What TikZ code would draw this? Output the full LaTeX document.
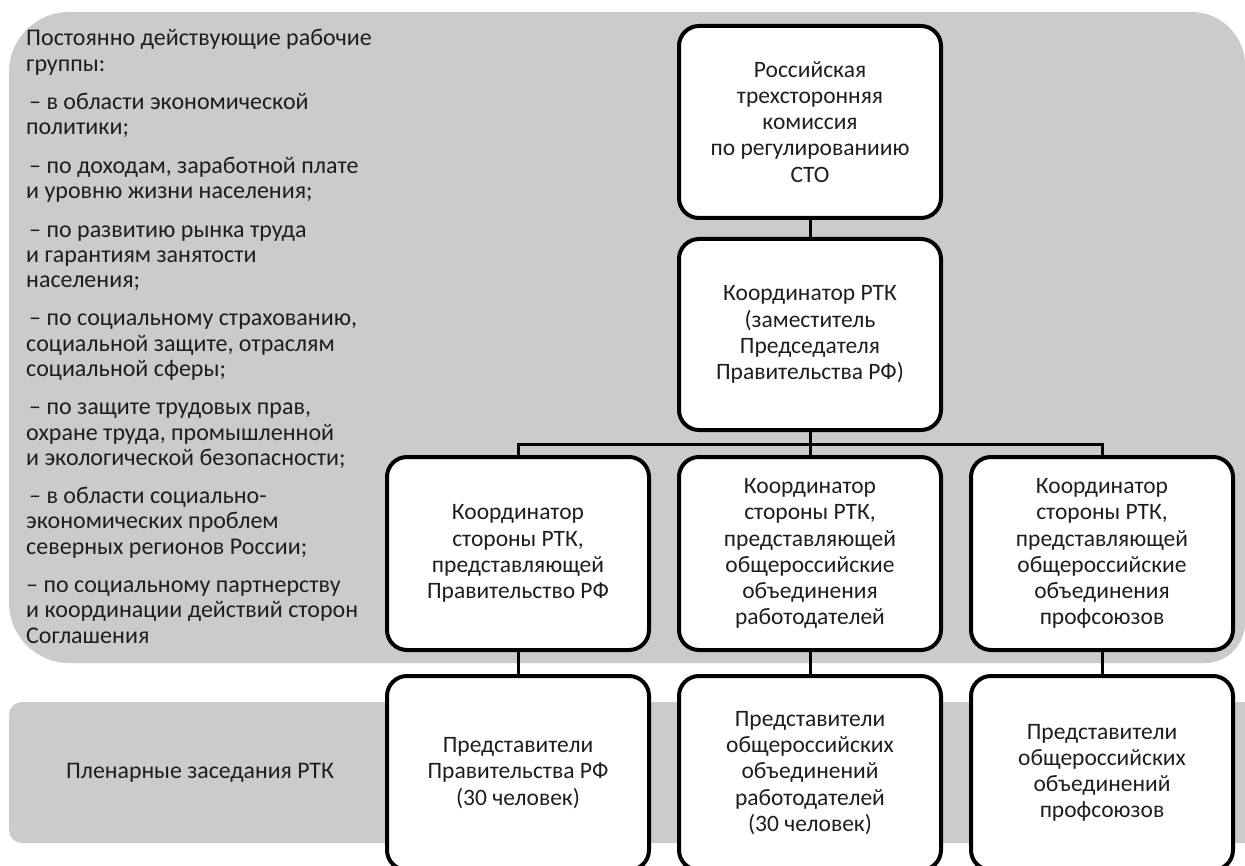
\documentclass[tikz,border=0pt]{standalone}
\usepackage{fontspec}
\setmainfont{Carlito}
\definecolor{bggray}{RGB}{204,203,201}
\definecolor{txt}{RGB}{30,30,30}
\begin{document}
\begin{tikzpicture}[x=1pt,y=-1pt,
  orgbox/.style={draw=black, line width=4pt, fill=white, rounded corners=20pt,
    minimum width=262pt, align=center, inner sep=0pt, text=txt,
    font=\fontsize{23.5}{26.1}\selectfont},
  link/.style={draw=black, line width=3pt},
  plain/.style={text=txt, inner sep=0pt}]
\useasboundingbox (0,0) rectangle (1245,866);
\begin{scope}
\clip (0,0) rectangle (1245,866);
% gray backgrounds
\fill[bggray] (69,12) -- (1192,12) .. controls (1221,12) and (1245,36) .. (1245,65)
  -- (1245,623) .. controls (1245,645) and (1227,663) .. (1205,663)
  -- (69,663) .. controls (36,663) and (9,636) .. (9,603)
  -- (9,72) .. controls (9,39) and (36,12) .. (69,12) -- cycle;
\fill[bggray, rounded corners=13pt] (1260,702) -- (9,702) -- (9,843) -- (1260,843) -- cycle;

% left text (anchored at the baseline of its last line)
\node[plain, anchor=base west, align=left, font=\fontsize{24}{25.2}\selectfont] (groups) at (26,643)
{Постоянно действующие рабочие\\
группы:\\[13.3pt]
\hspace*{3pt}– в области экономической\\
политики;\\[13.3pt]
\hspace*{3pt}– по доходам, заработной плате\\
и уровню жизни населения;\\[13.3pt]
\hspace*{3pt}– по развитию рынка труда\\
и гарантиям занятости\\
населения;\\[13.3pt]
\hspace*{3pt}– по социальному страхованию,\\
социальной защите, отраслям\\
социальной сферы;\\[13.3pt]
\hspace*{3pt}– по защите трудовых прав,\\
охране труда, промышленной\\
и экологической безопасности;\\[13.3pt]
\hspace*{3pt}– в области социально-\\
экономических проблем\\
северных регионов России;\\[13.3pt]
– по социальному партнерству\\
и координации действий сторон\\
Соглашения};

\node[plain, font=\fontsize{23.8}{26.1}\selectfont] (plenary) at (200,773) {Пленарные заседания РТК};

% boxes
\node[orgbox, minimum height=192pt] (rtk) at (810,122)
  {Российская\\трехсторонняя\\комиссия\\по регулированиию\\СТО};
\node[orgbox, minimum height=191pt] (coord) at (810,334.5)
  {Координатор РТК\\(заместитель\\Председателя\\Правительства РФ)};
\node[orgbox, minimum height=193pt] (cgov) at (518,553.5)
  {Координатор\\стороны РТК,\\представляющей\\Правительство РФ};
\node[orgbox, minimum height=193pt] (cemp) at (810,553.5)
  {Координатор\\стороны РТК,\\представляющей\\общероссийские\\объединения\\работодателей};
\node[orgbox, minimum height=193pt] (cuni) at (1102,553.5)
  {Координатор\\стороны РТК,\\представляющей\\общероссийские\\объединения\\профсоюзов};
\node[orgbox, minimum height=194pt] (rgov) at (518,773)
  {Представители\\Правительства РФ\\(30 человек)};
\node[orgbox, minimum height=194pt] (remp) at (810,773)
  {Представители\\общероссийских\\объединений\\работодателей\\(30 человек)};
\node[orgbox, minimum height=194pt] (runi) at (1102,773)
  {Представители\\общероссийских\\объединений\\профсоюзов};

% connectors
\coordinate (bus) at (810,444);
\draw[link] (rtk.south) -- (coord.north);
\draw[link] (coord.south) -- (cemp.north);
\draw[link] (cgov.north) |- (bus) -| (cuni.north);
\draw[link] (cgov.south) -- (rgov.north);
\draw[link] (cemp.south) -- (remp.north);
\draw[link] (cuni.south) -- (runi.north);
\end{scope}
\end{tikzpicture}
\end{document}
